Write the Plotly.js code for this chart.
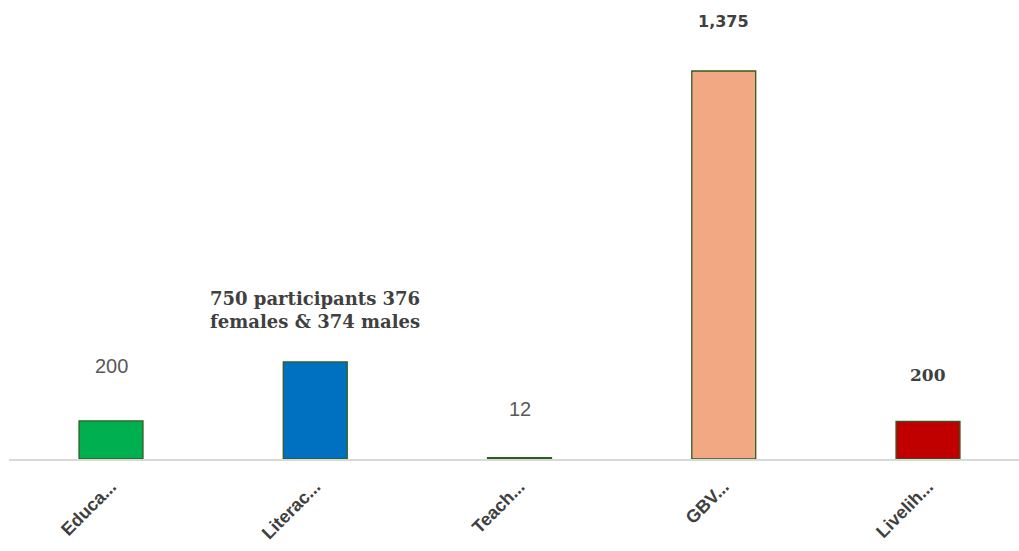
<!DOCTYPE html>
<html>
<head>
<meta charset="utf-8">
<script src="https://cdn.plot.ly/plotly-3.0.1.min.js"></script>
<style>html,body{margin:0;padding:0;background:#fff}#chart{width:1019px;height:551px}</style>
</head>
<body>
<div id="chart"></div>
<script>
// Data
const categories = ["Educa...", "Literac...", "Teach...", "GBV...", "Livelih..."];
const barValues = [135, 344, 5, 1375, 133];          // bar heights as drawn
const labelTexts = ["200", "750 participants 376<br>females & 374 males", "12", "1,375", "200"];
const barColors = ["#00B050", "#0070C0", "#00B050", "#F2A983", "#C00000"];

const labelFonts = [
  {family: "Liberation Sans, Arial", size: 20, color: "#595959"},
  {family: "DejaVu Serif, Liberation Serif", size: 18, color: "#404040", weight: "bold"},
  {family: "Liberation Sans, Arial", size: 20, color: "#595959"},
  {family: "DejaVu Sans, Arial", size: 16, color: "#404040", weight: "bold"},
  {family: "DejaVu Serif, Liberation Serif", size: 17, color: "#404040", weight: "bold"}
];
const labelShift = [55, 52, 49, 50, 46];

const annotations = categories.map((c, i) => ({
  x: c, y: barValues[i], xref: "x", yref: "y",
  text: labelTexts[i], showarrow: false,
  yshift: labelShift[i], yanchor: "middle",
  font: labelFonts[i], align: "center"
}));

const trace = {
  type: "bar",
  x: categories,
  y: barValues,
  width: 0.313,
  marker: {color: barColors, line: {color: "#2E5E1E", width: 1.3}},
  hoverinfo: "skip"
};

const layout = {
  width: 1019, height: 551,
  margin: {l: 9, r: 0, t: 0, b: 92},
  paper_bgcolor: "#fff", plot_bgcolor: "#fff",
  showlegend: false,
  xaxis: {
    range: [-0.4994, 4.4455],
    tickangle: -45,
    showline: true, linecolor: "#D9D9D9", linewidth: 2,
    showgrid: false, zeroline: false, ticks: "",
    ticklabelstandoff: 8,
    tickfont: {family: "Liberation Sans, Arial", size: 18, color: "#404040", weight: "bold"}
  },
  yaxis: {
    range: [0, 1626.6], visible: false, showgrid: false, zeroline: false
  },
  annotations: annotations
};

Plotly.newPlot("chart", [trace], layout, {displayModeBar: false, staticPlot: true});
</script>
</body>
</html>
